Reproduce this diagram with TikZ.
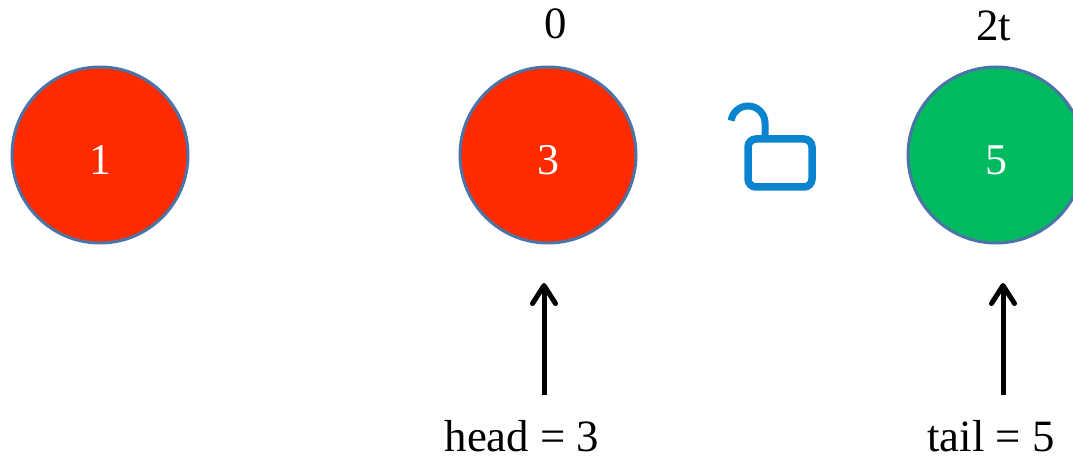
\documentclass[tikz,border=0pt]{standalone}
\usepackage{fontspec}
\setmainfont{Liberation Serif}
\usetikzlibrary{arrows.meta}
\definecolor{ringblue}{HTML}{4A74A6}
\definecolor{redfill}{HTML}{FF2A00}
\definecolor{greenfill}{HTML}{00BA60}
\definecolor{lockblue}{HTML}{0A84CE}
\tikzset{
	ball/.style={shape=circle, draw=ringblue, line width=0.06cm, minimum size=3.52cm, inner sep=0pt, text=white, font=\fontsize{25}{25}\selectfont, text height=0.8cm, text depth=0cm},
	pointer/.style={line width=0.1cm, -{Straight Barb[length=0.36cm, width=0.46cm, round]}},
	caption/.style={font=\fontsize{25.5}{25.5}\selectfont, inner sep=0pt}
}
\begin{document}
\begin{tikzpicture}
	\useasboundingbox (0, 0) rectangle (21.46, 9.18);
	% Balls and their captions:
	\node[ball, fill=redfill] (one) at (2, 6.08){1};
	\node[ball, fill=redfill] (three) at (10.96, 6.08){3};
	\node[ball, fill=greenfill] (five) at (19.92, 6.08){5};
	\node[caption] (zero) at (11.12, 8.7){0};
	\node[caption] (twot) at (19.88, 8.66){2t};
	\node[caption] (head) at (10.44, 0.46){head = 3};
	\node[caption] (tail) at (19.82, 0.46){tail = 5};
	% Pointers:
	\coordinate (headfoot) at (10.88, 1.28);
	\coordinate (headtip) at (10.88, 3.52);
	\coordinate (tailfoot) at (20.06, 1.28);
	\coordinate (tailtip) at (20.06, 3.52);
	\draw[pointer] (headfoot) -- (headtip);
	\draw[pointer] (tailfoot) -- (tailtip);
	% Open lock:
	\draw[lockblue, line width=0.15cm, rounded corners=0.16cm] (14.96, 5.44) rectangle (16.24, 6.4);
	\draw[lockblue, line width=0.14cm] (15.3, 6.4) -- (15.3, 6.72) arc[start angle=0, end angle=172, radius=0.34cm];
\end{tikzpicture}
\end{document}
